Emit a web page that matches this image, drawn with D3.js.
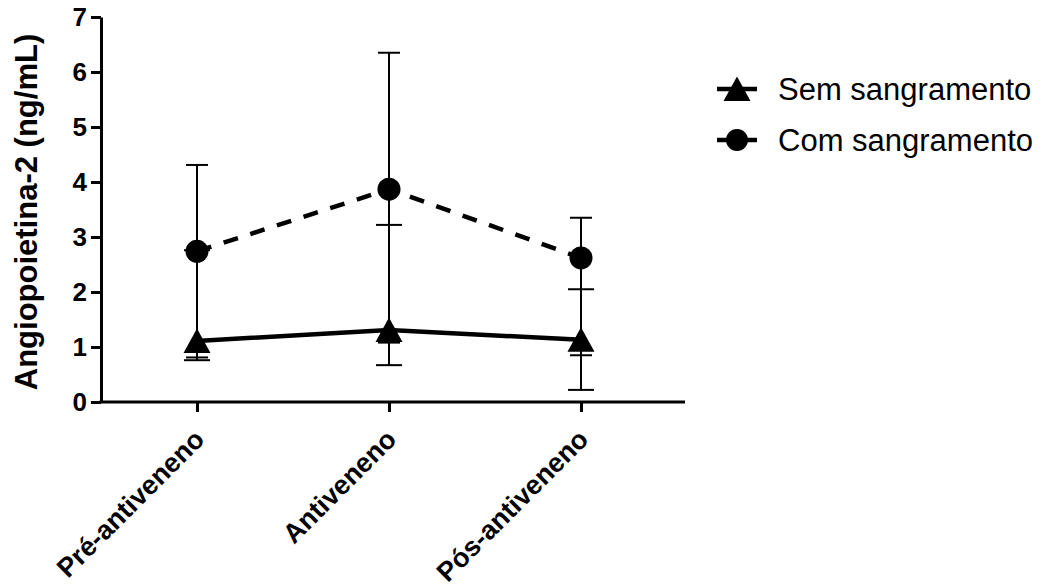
<!DOCTYPE html>
<html>
<head>
<meta charset="utf-8">
<script src="https://cdn.jsdelivr.net/npm/d3@7"></script>
<style>
  body { margin: 0; background: #fff; }
  svg { display: block; }
  svg text { font-family: Arial, "Liberation Sans", sans-serif; fill: #000; }
</style>
</head>
<body>
<div id="chart"></div>
<script>
// data
const categories = ["Pré-antiveneno", "Antiveneno", "Pós-antiveneno"];
const semMean = [1.11, 1.31, 1.13];
const semLow = [0.76, 0.67, 0.22];
const semHigh = [2.76, 3.22, 2.05];
const comMean = [2.74, 3.87, 2.62];
const comLow = [0.81, 1.08, 0.85];
const comHigh = [4.31, 6.35, 3.35];
const yTicks = [0, 1, 2, 3, 4, 5, 6, 7];
const seriesNames = ["Sem sangramento", "Com sangramento"];

const width = 1040, height = 587;
const plotLeft = 101, plotRight = 685, plotTop = 17, plotBottom = 402;

const svg = d3.select("#chart").append("svg")
  .attr("width", width)
  .attr("height", height);

const x = d3.scalePoint()
  .domain(categories)
  .range([plotLeft, 677])
  .padding(0.5);

const y = d3.scaleLinear()
  .domain([0, 7])
  .range([plotBottom, plotTop]);

// Y axis
const yAxis = svg.append("g")
  .attr("transform", `translate(${plotLeft},0)`)
  .call(d3.axisLeft(y).tickValues(yTicks).tickFormat(d3.format("d"))
    .tickSize(10).tickPadding(4).tickSizeOuter(0));
yAxis.select(".domain").attr("stroke-width", 3);
yAxis.selectAll(".tick line").attr("stroke-width", 3);
yAxis.selectAll(".tick text")
  .style("font-size", "26px")
  .style("font-weight", "bold");

// X axis
const xAxis = svg.append("g")
  .attr("transform", `translate(0,${plotBottom})`)
  .call(d3.axisBottom(x).tickSize(10).tickSizeOuter(0).tickFormat(""));
xAxis.select(".domain").remove();
xAxis.append("line")
  .attr("x1", plotLeft - 1.5).attr("x2", plotRight)
  .attr("stroke", "#000").attr("stroke-width", 3);
xAxis.selectAll(".tick line").attr("stroke-width", 3);

// rotated category labels
svg.append("g").selectAll("text")
  .data(categories)
  .join("text")
  .attr("transform", d => `translate(${x(d) + 9},441) rotate(-45)`)
  .attr("text-anchor", "end")
  .style("font-size", "27px")
  .style("font-weight", "bold")
  .text(d => d);

// Y title
svg.append("text")
  .attr("transform", "rotate(-90)")
  .attr("x", -212)
  .attr("y", 37)
  .attr("text-anchor", "middle")
  .style("font-size", "31px")
  .style("font-weight", "bold")
  .text("Angiopoietina-2 (ng/mL)");

const series = [
  { mean: semMean, low: semLow, high: semHigh, cap: 26, dash: null, shape: "tri" },
  { mean: comMean, low: comLow, high: comHigh, cap: 22, dash: "15,13", shape: "circle" }
];

// error bars
series.forEach(s => {
  const g = svg.append("g").attr("stroke", "#000").attr("stroke-width", 2);
  categories.forEach((c, i) => {
    g.append("line")
      .attr("x1", x(c)).attr("x2", x(c))
      .attr("y1", y(s.low[i])).attr("y2", y(s.high[i]));
    [s.low[i], s.high[i]].forEach(v => {
      g.append("line")
        .attr("x1", x(c) - s.cap / 2).attr("x2", x(c) + s.cap / 2)
        .attr("y1", y(v)).attr("y2", y(v));
    });
  });
});

// connecting lines
const line = d3.line()
  .x((d, i) => x(categories[i]))
  .y(d => y(d));

series.forEach(s => {
  svg.append("path")
    .datum(s.mean)
    .attr("d", line)
    .attr("fill", "none")
    .attr("stroke", "#000")
    .attr("stroke-width", 4.5)
    .attr("stroke-dasharray", s.dash);
});

function triPath(cx, cy) {
  return `M${cx},${cy - 12.5}L${cx + 13.5},${cy + 12}L${cx - 13.5},${cy + 12}Z`;
}

// markers
series.forEach(s => {
  categories.forEach((c, i) => {
    if (s.shape === "tri") {
      svg.append("path").attr("d", triPath(x(c), y(s.mean[i]))).attr("fill", "#000");
    } else {
      svg.append("circle").attr("cx", x(c)).attr("cy", y(s.mean[i])).attr("r", 11.5).attr("fill", "#000");
    }
  });
});

// legend
const legend = svg.append("g");
series.forEach((s, i) => {
  const cy = 89 + i * 51;
  legend.append("line")
    .attr("x1", 717).attr("x2", 757)
    .attr("y1", cy).attr("y2", cy)
    .attr("stroke", "#000").attr("stroke-width", 4.5);
  if (s.shape === "tri") {
    legend.append("path").attr("d", triPath(737, cy)).attr("fill", "#000");
  } else {
    legend.append("circle").attr("cx", 737).attr("cy", cy).attr("r", 11).attr("fill", "#000");
  }
  legend.append("text")
    .attr("x", 778)
    .attr("y", cy + 11)
    .style("font-size", "31px")
    .text(seriesNames[i]);
});
</script>
</body>
</html>
